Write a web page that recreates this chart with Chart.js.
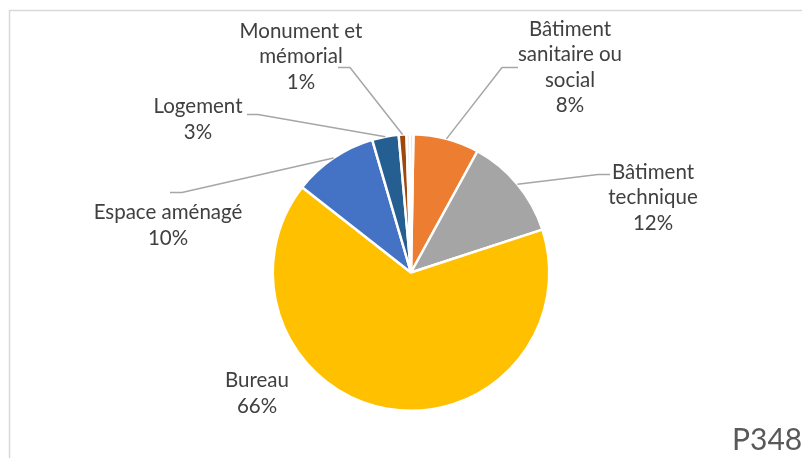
<!DOCTYPE html>
<html>
<head>
<meta charset="utf-8">
<script src="https://cdn.jsdelivr.net/npm/chart.js@4.4.1/dist/chart.umd.min.js"></script>
<style>
  html, body { margin: 0; padding: 0; background: #fff; }
  #wrap { width: 802px; height: 458px; }
</style>
</head>
<body>
<div id="wrap"><canvas id="chart" width="802" height="458"></canvas></div>
<script>
// categories (multi-line labels as shown on the chart)
var categories = [
  ['Bâtiment', 'sanitaire ou', 'social'],
  ['Bâtiment', 'technique'],
  ['Bureau'],
  ['Espace aménagé'],
  ['Logement'],
  ['Monument et', 'mémorial'],
  [''],
  ['']
];
// share of each category, in percent
var values = [7.7, 12.0, 65.6, 9.9, 3.1, 0.9, 0.4, 0.4];
var colors = ['#ED7D31', '#A5A5A5', '#FFC000', '#4472C4', '#255E91', '#9E480E', '#E2E2E2', '#E2E2E2'];
var cornerText = 'P348';

// label placement relative to the pie centre (px), leader start offset and elbow length
var labelPlacement = [
  { dx: 159, dy: -205, sx: -52, sy: 0, ex: -16 },
  { dx: 242, dy: -75, sx: -43, sy: -23, ex: -12 },
  { dx: -154, dy: 121, sx: null },
  { dx: -243, dy: -47, sx: 2, sy: -33, ex: 12 },
  { dx: -213, dy: -153, sx: 49, sy: -5, ex: 11 },
  { dx: -110, dy: -216, sx: 37, sy: 11, ex: 12 },
  null,
  null
];

var FONT = '20.5px Lato, "Open Sans", sans-serif';
var LINE_H = 25.5;

var framePlugin = {
  id: 'frame',
  beforeDraw: function (chart) {
    var ctx = chart.ctx;
    ctx.save();
    ctx.strokeStyle = '#D9D9D9';
    ctx.lineWidth = 1.5;
    ctx.beginPath();
    ctx.moveTo(9.5, 458);
    ctx.lineTo(9.5, 10.5);
    ctx.lineTo(802, 10.5);
    ctx.stroke();
    ctx.restore();
  },
  afterDraw: function (chart) {
    var ctx = chart.ctx;
    ctx.save();
    ctx.fillStyle = '#595959';
    ctx.font = '30px Lato, "Open Sans", sans-serif';
    ctx.textAlign = 'left';
    ctx.textBaseline = 'alphabetic';
    ctx.fillText(cornerText, 732, 450);
    ctx.restore();
  }
};

var labelPlugin = {
  id: 'pieLabels',
  afterDatasetsDraw: function (chart) {
    var ctx = chart.ctx;
    var meta = chart.getDatasetMeta(0);
    var total = values.reduce(function (a, b) { return a + b; }, 0);
    ctx.save();
    for (var i = 0; i < meta.data.length; i++) {
      var p = labelPlacement[i];
      if (!p) continue;
      var arc = meta.data[i];
      var mid = (arc.startAngle + arc.endAngle) / 2;
      var R = arc.outerRadius;
      var ax = arc.x + Math.cos(mid) * R;
      var ay = arc.y + Math.sin(mid) * R;
      var cx = arc.x + p.dx;
      var cy = arc.y + p.dy;

      if (p.sx !== null) {
        var sx = cx + p.sx, sy = cy + p.sy;
        ctx.strokeStyle = '#A6A6A6';
        ctx.lineWidth = 1.5;
        ctx.beginPath();
        ctx.moveTo(sx, sy);
        ctx.lineTo(sx + p.ex, sy);
        ctx.lineTo(ax, ay);
        ctx.stroke();
      }

      var lines = categories[i].concat([Math.round(values[i] / total * 100) + '%']);
      ctx.fillStyle = '#404040';
      ctx.font = FONT;
      ctx.textAlign = 'center';
      ctx.textBaseline = 'middle';
      var top = cy - (lines.length - 1) * LINE_H / 2;
      for (var l = 0; l < lines.length; l++) {
        ctx.fillText(lines[l], cx, top + l * LINE_H);
      }
    }
    ctx.restore();
  }
};

new Chart(document.getElementById('chart'), {
  type: 'pie',
  data: {
    labels: categories.map(function (c) { return c.join(' '); }),
    datasets: [{
      data: values,
      backgroundColor: colors,
      borderColor: '#FFFFFF',
      borderWidth: 2.5
    }]
  },
  options: {
    responsive: false,
    animation: false,
    rotation: 1,
    layout: { padding: { top: 133, bottom: 46, left: 200, right: 180 } },
    plugins: {
      legend: { display: false },
      tooltip: { enabled: false }
    }
  },
  plugins: [framePlugin, labelPlugin]
});
</script>
</body>
</html>
